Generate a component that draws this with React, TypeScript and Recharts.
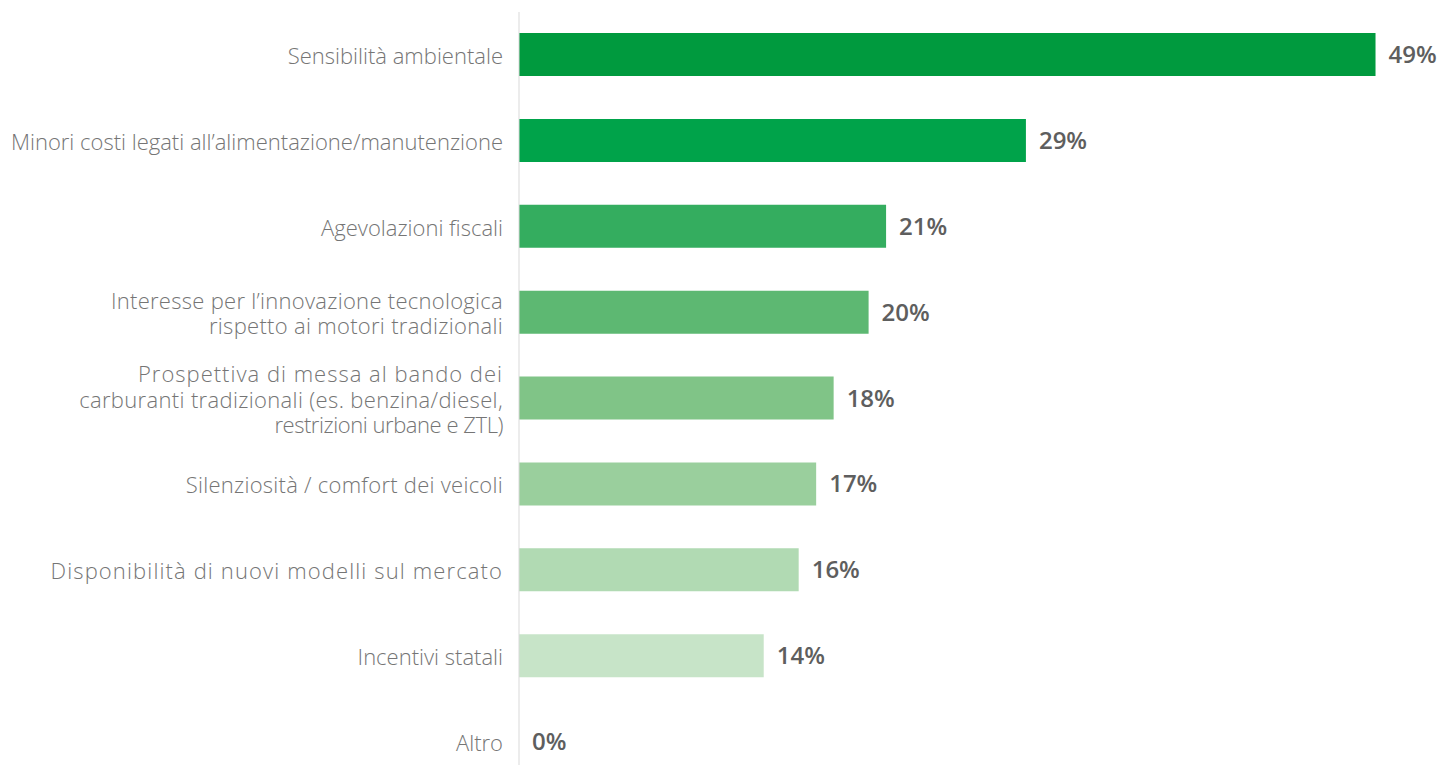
import { BarChart, Bar, XAxis, YAxis, Cell, LabelList } from 'recharts';

// Motivazioni, dall'alto verso il basso
const categories = [
  'Sensibilità ambientale',
  'Minori costi legati all’alimentazione/manutenzione',
  'Agevolazioni fiscali',
  'Interesse per l’innovazione tecnologica\nrispetto ai motori tradizionali',
  'Prospettiva di messa al bando dei\ncarburanti tradizionali (es. benzina/diesel,\nrestrizioni urbane e ZTL)',
  'Silenziosità / comfort dei veicoli',
  'Disponibilità di nuovi modelli sul mercato',
  'Incentivi statali',
  'Altro',
];
const shares = [49, 29, 21, 20, 18, 17, 16, 14, 0];
const shades = ['#009a3e', '#00a34a', '#34ad5f', '#5db872', '#80c487', '#9acf9d', '#b1dab3', '#c7e4c8', '#dcefdc'];

const data = categories.map((name, i) => ({ name, value: shares[i] }));

// some lines are set wider in the layout, spread them a little
const spacing: Record<string, number> = {
  'Interesse per l’innovazione tecnologica': 0.28,
  'rispetto ai motori tradizionali': 0.3,
  'Silenziosità / comfort dei veicoli': 0.26,
  'Disponibilità di nuovi modelli sul mercato': 1.12,
  'Prospettiva di messa al bando dei': 1.0,
  'carburanti tradizionali (es. benzina/diesel,': 0.34,
  'restrizioni urbane e ZTL)': -0.45,
};

const LINE_H = 25.5;

function CategoryTick(props: any) {
  const { x, y, payload } = props;
  const lines = String(payload.value).split('\n');
  const y0 = y - ((lines.length - 1) * LINE_H) / 2;
  return (
    <text
      x={x}
      y={y0}
      textAnchor="end"
      dominantBaseline="central"
      fill="#757575"
      fontFamily="'Open Sans', sans-serif"
      fontWeight={300}
      fontSize={22}
    >
      {lines.map((l, i) => (
        <tspan key={i} x={x} dy={i === 0 ? 0 : LINE_H} letterSpacing={spacing[l] ?? 0}>
          {l}
        </tspan>
      ))}
    </text>
  );
}

export default function App() {
  return (
    <div style={{ position: 'absolute', left: 0, top: 0, width: 1449, height: 765, overflow: 'hidden', background: '#fff' }}>
      <BarChart
        width={1449}
        height={785}
        data={data}
        layout="vertical"
        margin={{ top: 12, right: 56, bottom: 0, left: 0 }}
      >
        <XAxis type="number" domain={[0, 50]} hide />
        <YAxis
          type="category"
          dataKey="name"
          width={519}
          tickLine={false}
          tickSize={0}
          tickMargin={16}
          axisLine={{ stroke: '#d9d9d9', strokeWidth: 1 }}
          tick={<CategoryTick />}
          interval={0}
        />
        <Bar dataKey="value" barSize={43} minPointSize={0.01} isAnimationActive={false}>
          {data.map((d, i) => (
            <Cell key={d.name} fill={shades[i]} />
          ))}
          <LabelList
            dataKey="value"
            position="right"
            offset={13}
            formatter={(v: any) => `${v}%`}
            fill="#5e5e5e"
            fontFamily="'Open Sans', sans-serif"
            fontWeight={600}
            fontSize={24}
          />
        </Bar>
      </BarChart>
    </div>
  );
}
